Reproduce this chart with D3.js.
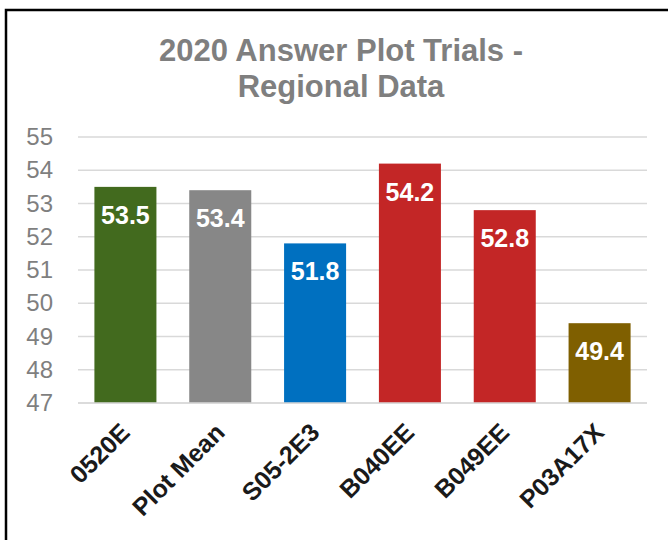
<!DOCTYPE html>
<html>
<head>
<meta charset="utf-8">
<script src="https://cdn.jsdelivr.net/npm/d3@7"></script>
<style>
  body { margin: 0; background: #fff; }
  svg { display: block; font-family: Arial, "Liberation Sans", sans-serif; }
</style>
</head>
<body>
<div id="chart"></div>
<script>
const categories = ["0520E", "Plot Mean", "S05-2E3", "B040EE", "B049EE", "P03A17X"];
const values = [53.5, 53.4, 51.8, 54.2, 52.8, 49.4];
const barColors = ["#426a1e", "#878787", "#0070c0", "#c32626", "#c32626", "#7f5f00"];
const yTicks = [47, 48, 49, 50, 51, 52, 53, 54, 55];
const titleLines = ["2020 Answer Plot Trials -", "Regional Data"];

const W = 668, H = 540;
const plot = { left: 78, right: 647, top: 137, bottom: 403 };

const svg = d3.select("#chart").append("svg")
    .attr("width", W)
    .attr("height", H);

// outer frame (runs off the right and bottom edges)
svg.append("rect")
    .attr("x", 6).attr("y", 10)
    .attr("width", 720).attr("height", 600)
    .attr("fill", "#fff")
    .attr("stroke", "#000")
    .attr("stroke-width", 2.5);

svg.append("g").selectAll("text")
    .data(titleLines)
    .join("text")
    .attr("x", 341)
    .attr("y", (d, i) => 61 + i * 36)
    .attr("text-anchor", "middle")
    .attr("fill", "#7f7f7f")
    .attr("font-weight", "bold")
    .attr("font-size", 31)
    .text(d => d);

const x = d3.scaleBand()
    .domain(categories)
    .range([plot.left, plot.right])
    .paddingInner(0.346)
    .paddingOuter(0.173);

const y = d3.scaleLinear()
    .domain([47, 55])
    .range([plot.bottom, plot.top]);

// gridlines
svg.append("g")
    .selectAll("line")
    .data(yTicks)
    .join("line")
    .attr("x1", plot.left).attr("x2", plot.right)
    .attr("y1", d => y(d)).attr("y2", d => y(d))
    .attr("stroke", "#d9d9d9")
    .attr("stroke-width", 1.5);

// y axis labels
const yAxis = svg.append("g")
    .attr("transform", `translate(${plot.left - 25},0)`)
    .call(d3.axisLeft(y).tickValues(yTicks).tickSize(0).tickPadding(0));
yAxis.select(".domain").remove();
yAxis.selectAll("text")
    .attr("font-size", 24)
    .attr("fill", "#7f7f7f")
    .attr("font-family", "Arial, 'Liberation Sans', sans-serif");

// bars
svg.append("g")
    .selectAll("rect")
    .data(values)
    .join("rect")
    .attr("x", (d, i) => x(categories[i]))
    .attr("y", d => y(d))
    .attr("width", x.bandwidth())
    .attr("height", d => y(47) - y(d))
    .attr("fill", (d, i) => barColors[i]);

// data labels
svg.append("g")
    .selectAll("text")
    .data(values)
    .join("text")
    .attr("x", (d, i) => x(categories[i]) + x.bandwidth() / 2)
    .attr("y", d => y(d) + 37)
    .attr("text-anchor", "middle")
    .attr("fill", "#fff")
    .attr("font-weight", "bold")
    .attr("font-size", 25)
    .text(d => d.toFixed(1));

// baseline
svg.append("line")
    .attr("x1", plot.left).attr("x2", plot.right)
    .attr("y1", plot.bottom).attr("y2", plot.bottom)
    .attr("stroke", "#d9d9d9")
    .attr("stroke-width", 1.5);

// category labels
svg.append("g")
    .selectAll("text")
    .data(categories)
    .join("text")
    .attr("transform", d => `translate(${x(d) + x.bandwidth() / 2 + 6},434) rotate(-45)`)
    .attr("text-anchor", "end")
    .attr("fill", "#1a1a1a")
    .attr("font-weight", "bold")
    .attr("font-size", 25)
    .text(d => d);
</script>
</body>
</html>
